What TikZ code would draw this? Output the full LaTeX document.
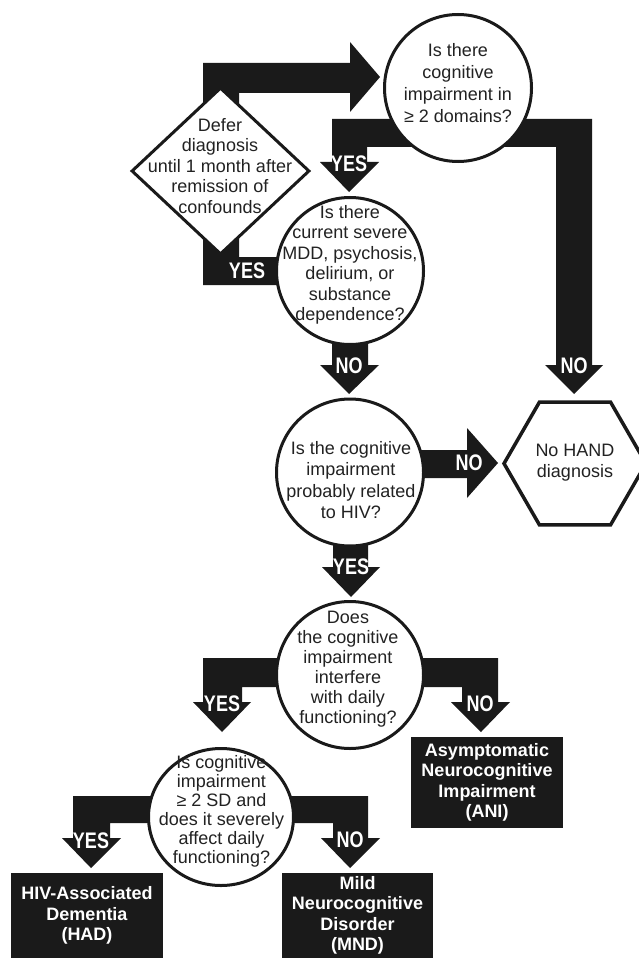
\documentclass[tikz,border=0pt]{standalone}
\usepackage{fontspec}
\setmainfont{Liberation Sans}
\newfontfamily\lblfont[FakeStretch=0.8]{Liberation Sans}
\usetikzlibrary{shapes.geometric,backgrounds}
\definecolor{ink}{HTML}{1A1A1A}
\definecolor{txt}{HTML}{222222}
\tikzset{
  qshape/.style={circle, draw=ink, line width=3pt, fill=white, inner sep=0pt, minimum size=147pt},
  qtext/.style={align=center, text=txt, font=\fontsize{18}{20.5}\selectfont, inner sep=0pt},
  yn/.style={text=white, font=\lblfont\bfseries\fontsize{22.5}{22.5}\selectfont, inner sep=0pt},
  outbox/.style={rectangle, fill=ink, text=white, align=center, inner sep=0pt, font=\bfseries\fontsize{18}{20.5}\selectfont},
  band/.style={fill=ink}
}
\begin{document}
\begin{tikzpicture}[x=1pt,y=-1pt]
\useasboundingbox (0,0) rectangle (638,960);
% decision shapes
\node[qshape] (c1) at (458,88) {};
\node[qtext, font=\fontsize{18}{22}\selectfont] (t1) at (458,83) {Is there\\cognitive\\impairment in\\≥ 2 domains?};
\node[diamond, draw=ink, line width=3pt, fill=white, inner sep=0pt, minimum width=178pt, minimum height=167pt] (dd) at (220.5,171) {};
\node[qtext] (td) at (220,166) {Defer\\diagnosis\\until 1 month after\\remission of\\confounds};
\node[qshape] (c2) at (350,271) {};
\node[qtext] (t2) at (350,265) {Is there\\current severe\\MDD, psychosis,\\delirium, or\\substance\\dependence?};
\node[qshape] (c3) at (350,472.5) {};
\node[qtext, font=\fontsize{18}{21.5}\selectfont] (t3) at (351,480) {Is the cognitive\\impairment\\probably related\\to HIV?};
\node[regular polygon, regular polygon sides=6, draw=ink, line width=3.5pt, fill=white, minimum size=142pt, inner sep=0pt] (hx) at (575,463.5) {};
\node[qtext, font=\fontsize{18}{21}\selectfont] (th) at (575,462.5) {No HAND\\diagnosis};
\node[qshape] (c4) at (350,675) {};
\node[qtext, font=\fontsize{18}{20}\selectfont] (t4) at (348,669) {Does\\the cognitive\\impairment\\interfere\\with daily\\functioning?};
\node[ellipse, draw=ink, line width=3pt, fill=white, inner sep=0pt, minimum width=145pt, minimum height=137pt] (c5) at (221,817) {};
\node[qtext, font=\fontsize{18}{19}\selectfont] (t5) at (221.5,811) {Is cognitive\\impairment\\≥ 2 SD and\\does it severely\\affect daily\\functioning?};
% outcome boxes
\node[outbox, minimum width=152pt, minimum height=85pt] (had) at (87,915.5) {HIV-Associated\\Dementia\\(HAD)};
\node[outbox, minimum width=152pt, minimum height=91pt] (ani) at (487,782.5) {Asymptomatic\\Neurocognitive\\Impairment\\(ANI)};
\node[outbox, minimum width=151pt, minimum height=85pt] (mnd) at (357.5,915.5) {Mild\\Neurocognitive\\Disorder\\(MND)};
% block arrows
\begin{scope}[on background layer]
\fill[band] (dd.center) -- (203,171) -- (203,63) -- (350,63) -- (350,42) -- (380,77) -- (350,112) -- (350,93) -- (239,93) -- (239,171) -- cycle;
\fill[band] (c1.center) -- (458,119) -- (332,119) -- (332,162) -- (320,162) -- (349,192) -- (379,162) -- (367,162) -- (367,147) -- (458,147) -- cycle;
\fill[band] (c1.center) -- (458,119) -- (592,119) -- (592,365) -- (603,365) -- (574,394) -- (545,365) -- (556,365) -- (556,147) -- (458,147) -- cycle;
\fill[band] (c2.center) -- (350,257) -- (239,257) -- (239,171) -- (dd.center) -- (203,171) -- (203,285) -- (350,285) -- cycle;
\fill[band] (c2.center) -- (332,271) -- (332,365) -- (320,365) -- (349,394) -- (379,365) -- (368,365) -- (368,271) -- cycle;
\fill[band] (c3.center) -- (350,450) -- (467,450) -- (467,428) -- (498,463) -- (467,498) -- (467,478) -- (350,478) -- cycle;
\fill[band] (c3.center) -- (333,472) -- (333,567) -- (322,567) -- (351,597) -- (380,567) -- (368,567) -- (368,472) -- cycle;
\fill[band] (c4.center) -- (350,658) -- (203,658) -- (203,702) -- (193,702) -- (222,732) -- (251,702) -- (242,702) -- (242,687) -- (350,687) -- cycle;
\fill[band] (c4.center) -- (350,658) -- (498,658) -- (498,702) -- (510,702) -- (481,732) -- (451,702) -- (462,702) -- (462,687) -- (350,687) -- cycle;
\fill[band] (c5.center) -- (221,796) -- (73,796) -- (73,838) -- (62,838) -- (91,868) -- (121,838) -- (110,838) -- (110,823) -- (221,823) -- cycle;
\fill[band] (c5.center) -- (221,796) -- (368,796) -- (368,838) -- (380,838) -- (350,868) -- (321,838) -- (333,838) -- (333,823) -- (221,823) -- cycle;
\end{scope}
% labels
\node[yn] (l1) at (349,164) {YES};
\node[yn] (l2) at (574,366) {NO};
\node[yn] (l3) at (247,271) {YES};
\node[yn] (l4) at (349,366) {NO};
\node[yn] (l5) at (469,463) {NO};
\node[yn] (l6) at (351,567) {YES};
\node[yn] (l7) at (222,704) {YES};
\node[yn] (l8) at (480,704) {NO};
\node[yn] (l9) at (91,841) {YES};
\node[yn] (l10) at (350,840) {NO};
\end{tikzpicture}
\end{document}
